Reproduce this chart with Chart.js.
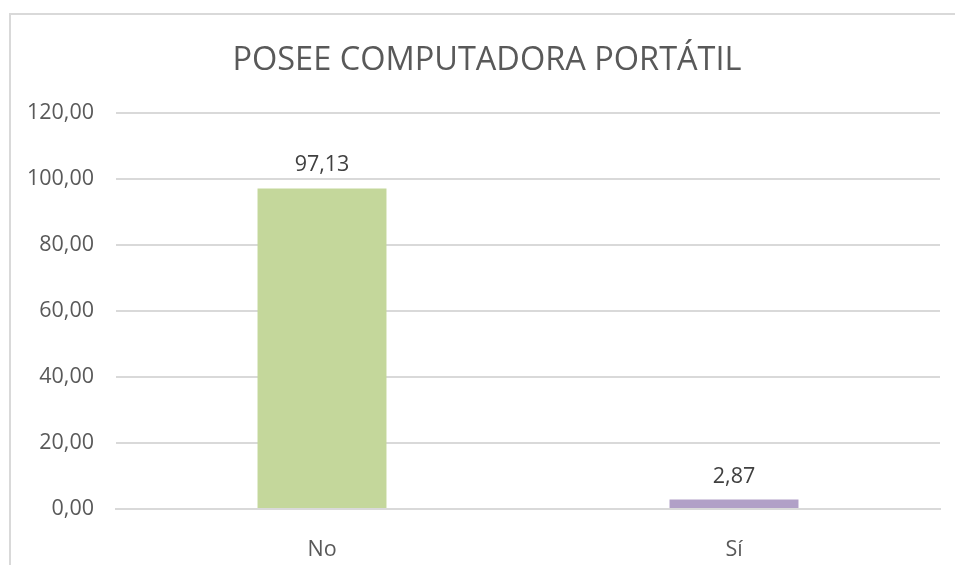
<!DOCTYPE html>
<html>
<head>
<meta charset="utf-8">
<script src="https://cdn.jsdelivr.net/npm/chart.js@4/dist/chart.umd.min.js"></script>
<style>
  html, body { margin: 0; padding: 0; background: #fff; overflow: hidden; }
  #graf { position: absolute; left: -3px; top: 15px; }
  #cadre { position: absolute; left: 9px; top: 13px; width: 990px; height: 570px; border: 2px solid #d9d9d9; box-sizing: border-box; pointer-events: none; }
</style>
</head>
<body>
<canvas id="graf" width="980" height="566"></canvas>
<div id="cadre"></div>
<script>
// DONNEES DU GRAPHIQUE
var categorias = ["No", "Sí"];
var porcentajes = [97.13, 2.87];
var colores = ["#c4d79b", "#b1a0c7"];
var titulo = "POSEE COMPUTADORA PORTÁTIL";

function formatoComa(v) {
    return v.toFixed(2).replace(".", ",");
}

// ETIQUETTES AU-DESSUS DES BARRES
var etiquetas = {
    id: "etiquetas",
    afterDatasetsDraw: function(chart) {
        var ctx = chart.ctx;
        var meta = chart.getDatasetMeta(0);
        ctx.save();
        ctx.font = "21.5px 'Open Sans'";
        ctx.fillStyle = "#404040";
        ctx.textAlign = "center";
        ctx.textBaseline = "alphabetic";
        meta.data.forEach(function(bar, i) {
            ctx.fillText(formatoComa(porcentajes[i]), bar.x, bar.y - 17);
        });
        ctx.restore();
    }
};

new Chart(document.getElementById("graf"), {
    type: "bar",
    data: {
        labels: categorias,
        datasets: [{
            data: porcentajes,
            backgroundColor: colores,
            barPercentage: 0.313,
            categoryPercentage: 1
        }]
    },
    plugins: [etiquetas],
    options: {
        responsive: false,
        animation: false,
        layout: { padding: 0 },
        plugins: {
            legend: { display: false },
            tooltip: { enabled: false },
            title: {
                display: true,
                text: titulo,
                color: "#595959",
                font: { family: "'Open Sans'", size: 32.5, weight: "normal" },
                padding: { top: 26, bottom: 33 }
            }
        },
        scales: {
            x: {
                afterFit: function(scale) { scale.height = 72; },
                grid: { display: false },
                border: { color: "#d9d9d9", width: 2 },
                ticks: { color: "#595959", font: { family: "'Open Sans'", size: 21.5 }, padding: 20 }
            },
            y: {
                min: 0,
                max: 120,
                afterFit: function(scale) { scale.width = 119; },
                grid: { color: "#d9d9d9", lineWidth: 2, drawTicks: false },
                border: { display: false },
                ticks: {
                    stepSize: 20,
                    color: "#595959",
                    padding: 22,
                    font: { family: "'Open Sans'", size: 21.5 },
                    callback: function(v) { return formatoComa(v); }
                }
            },
            // marge droite vide
            yMarge: {
                position: "right",
                display: true,
                grid: { display: false, drawOnChartArea: false },
                border: { display: false },
                ticks: { display: false },
                afterFit: function(scale) { scale.width = 37; }
            }
        }
    }
});
</script>
</body>
</html>
